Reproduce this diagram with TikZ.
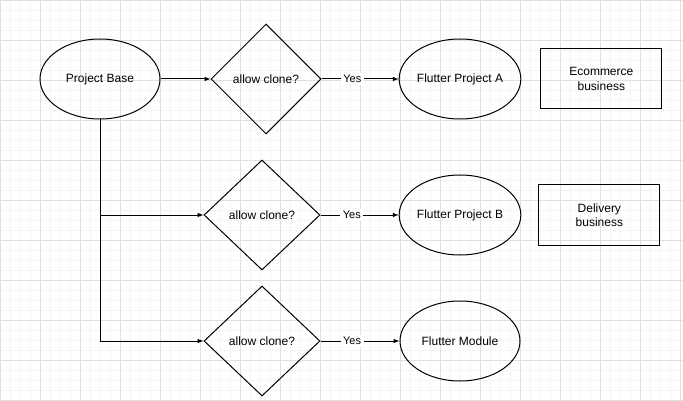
\documentclass[tikz,border=0pt]{standalone}
\usepackage{fontspec}
\setmainfont{Liberation Sans}
\usetikzlibrary{shapes.geometric}
\usetikzlibrary{positioning}

\begin{document}
\begin{tikzpicture}
    [
    x=1pt, y=-1pt,
    font=\fontsize{12}{14.5}\selectfont,
    gridminor/.style={draw=black!4, line width=0.5pt, step=10pt},
    gridmajor/.style={draw=black!12, line width=0.8pt, step=40pt},
    ellip/.style={ellipse,draw,line width=1pt,inner sep=0pt,minimum width=120pt,minimum height=80pt},
    choice/.style={diamond,draw,line width=1pt,inner sep=0pt,minimum height=110pt},
    note/.style={rectangle,draw,line width=1pt,align=center,minimum width=121pt,minimum height=60pt},
    conn/.style={line width=1pt,-latex},
    yes/.style={fill=white,inner sep=2.5pt,font=\fontsize{11}{13}\selectfont},
    ]
    \useasboundingbox (0,0) rectangle (683,401);
    \draw [gridminor] (0,0) grid (683,401);
    \draw [gridmajor] (0,0) grid (683,401);

    \node (base) at (100,79) [ellip] {Project Base};
    \node (dec1) at (266,79) [choice, minimum width=110pt] {allow clone?};
    \node (dec2) at (262,215) [choice, minimum width=116pt] {allow clone?};
    \node (dec3) at (262,341) [choice, minimum width=116pt] {allow clone?};

    \node (fpa) at (460,79) [ellip] {Flutter Project A};
    \node (fpb) at (460,215) [ellip] {Flutter Project B};
    \node (fmod) at (460,341) [ellip] {Flutter Module};

    \node (shop) [note, right=19pt of fpa] {Ecommerce\\business};
    \node (deliv) [note, right=17pt of fpb] {Delivery\\business};

    \draw [conn] (base) to (dec1);
    \draw [conn] (dec1) to node [yes, pos=0.4] {Yes} (fpa);
    \draw [conn] (dec2) to node [yes, pos=0.4] {Yes} (fpb);
    \draw [conn] (dec3) to node [yes, pos=0.4] {Yes} (fmod);

    \coordinate (fork) at (base.south |- dec2);
    \draw [conn] (base.south) |- (dec3);
    \draw [conn] (fork) to (dec2);
  \end{tikzpicture}
\end{document}
